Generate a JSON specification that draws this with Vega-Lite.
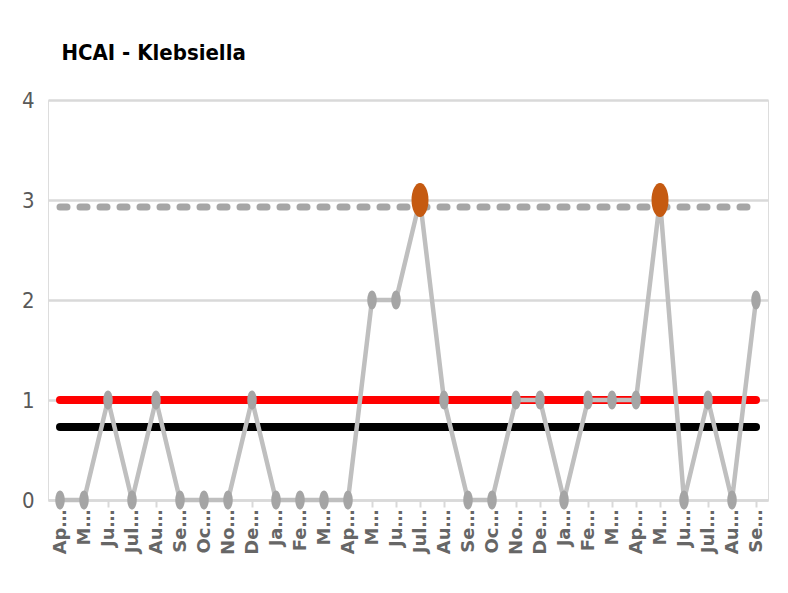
{
  "$schema": "https://vega.github.io/schema/vega-lite/v6.json",
  "width": 720,
  "height": 400,
  "autosize": {"type": "none"},
  "padding": {"left": 48, "top": 100, "right": 20, "bottom": 93},
  "title": {
    "text": "HCAI - Klebsiella",
    "anchor": "start",
    "dx": 40,
    "dy": -20,
    "font": "DejaVu Sans Condensed",
    "fontSize": 22,
    "fontWeight": "bold",
    "color": "#000000"
  },
  "data": {
    "values": [
      {"month": "Apr 2018", "cases": 0, "mean": 1, "lower": 0.73, "ucl": 2.93},
      {"month": "May 2018", "cases": 0, "mean": 1, "lower": 0.73, "ucl": 2.93},
      {"month": "Jun 2018", "cases": 1, "mean": 1, "lower": 0.73, "ucl": 2.93},
      {"month": "Jul 2018", "cases": 0, "mean": 1, "lower": 0.73, "ucl": 2.93},
      {"month": "Aug 2018", "cases": 1, "mean": 1, "lower": 0.73, "ucl": 2.93},
      {"month": "Sep 2018", "cases": 0, "mean": 1, "lower": 0.73, "ucl": 2.93},
      {"month": "Oct 2018", "cases": 0, "mean": 1, "lower": 0.73, "ucl": 2.93},
      {"month": "Nov 2018", "cases": 0, "mean": 1, "lower": 0.73, "ucl": 2.93},
      {"month": "Dec 2018", "cases": 1, "mean": 1, "lower": 0.73, "ucl": 2.93},
      {"month": "Jan 2019", "cases": 0, "mean": 1, "lower": 0.73, "ucl": 2.93},
      {"month": "Feb 2019", "cases": 0, "mean": 1, "lower": 0.73, "ucl": 2.93},
      {"month": "Mar 2019", "cases": 0, "mean": 1, "lower": 0.73, "ucl": 2.93},
      {"month": "Apr 2019", "cases": 0, "mean": 1, "lower": 0.73, "ucl": 2.93},
      {"month": "May 2019", "cases": 2, "mean": 1, "lower": 0.73, "ucl": 2.93},
      {"month": "Jun 2019", "cases": 2, "mean": 1, "lower": 0.73, "ucl": 2.93},
      {"month": "Jul 2019", "cases": 3, "mean": 1, "lower": 0.73, "ucl": 2.93},
      {"month": "Aug 2019", "cases": 1, "mean": 1, "lower": 0.73, "ucl": 2.93},
      {"month": "Sep 2019", "cases": 0, "mean": 1, "lower": 0.73, "ucl": 2.93},
      {"month": "Oct 2019", "cases": 0, "mean": 1, "lower": 0.73, "ucl": 2.93},
      {"month": "Nov 2019", "cases": 1, "mean": 1, "lower": 0.73, "ucl": 2.93},
      {"month": "Dec 2019", "cases": 1, "mean": 1, "lower": 0.73, "ucl": 2.93},
      {"month": "Jan 2020", "cases": 0, "mean": 1, "lower": 0.73, "ucl": 2.93},
      {"month": "Feb 2020", "cases": 1, "mean": 1, "lower": 0.73, "ucl": 2.93},
      {"month": "Mar 2020", "cases": 1, "mean": 1, "lower": 0.73, "ucl": 2.93},
      {"month": "Apr 2020", "cases": 1, "mean": 1, "lower": 0.73, "ucl": 2.93},
      {"month": "May 2020", "cases": 3, "mean": 1, "lower": 0.73, "ucl": 2.93},
      {"month": "Jun 2020", "cases": 0, "mean": 1, "lower": 0.73, "ucl": 2.93},
      {"month": "Jul 2020", "cases": 1, "mean": 1, "lower": 0.73, "ucl": 2.93},
      {"month": "Aug 2020", "cases": 0, "mean": 1, "lower": 0.73, "ucl": 2.93},
      {"month": "Sep 2020", "cases": 2, "mean": 1, "lower": 0.73, "ucl": 2.93}
    ]
  },
  "encoding": {
    "x": {
      "field": "month",
      "type": "ordinal",
      "sort": null,
      "scale": {"padding": 0.5},
      "axis": {
        "title": null,
        "labelAngle": -90,
        "labelExpr": "slice(datum.value,0,3)=='Jul' ? 'Jul…' : (slice(datum.value,0,1)=='M' ? 'M…' : slice(datum.value,0,2)+'…')",
        "labelFont": "DejaVu Sans",
        "labelFontSize": 18,
        "labelFontWeight": "bold",
        "labelColor": "#666666",
        "labelPadding": 2,
        "tickSize": 7,
        "tickColor": "#d9d9d9",
        "tickWidth": 2,
        "domainColor": "#d9d9d9",
        "domainWidth": 2.5,
        "grid": false
      }
    }
  },
  "layer": [
    {
      "mark": {"type": "line", "color": "#a6a6a6", "strokeWidth": 7, "strokeDash": [7, 13], "strokeCap": "round"},
      "encoding": {"y": {"field": "ucl", "type": "quantitative", "scale": {"domain": [0, 4]},
        "axis": {"title": null, "values": [0, 1, 2, 3, 4], "format": "d", "domain": false, "ticks": false, "labelPadding": 14,
          "labelFont": "DejaVu Sans Condensed", "labelFontSize": 22, "labelColor": "#595959", "gridColor": "#d9d9d9", "gridWidth": 2.5}}}
    },
    {
      "mark": {"type": "line", "color": "#ff0000", "strokeWidth": 8, "strokeCap": "round"},
      "encoding": {"y": {"field": "mean", "type": "quantitative"}}
    },
    {
      "mark": {"type": "line", "color": "#000000", "strokeWidth": 8, "strokeCap": "round"},
      "encoding": {"y": {"field": "lower", "type": "quantitative"}}
    },
    {
      "mark": {"type": "line", "color": "#bfbfbf", "strokeWidth": 4.5},
      "encoding": {"y": {"field": "cases", "type": "quantitative"}}
    },
    {
      "mark": {"type": "point", "filled": true, "opacity": 1, "color": "#a5a5a5", "size": 361, "shape": "M0,-1A0.5,1 0 1,1 0,1A0.5,1 0 1,1 0,-1Z"},
      "encoding": {"y": {"field": "cases", "type": "quantitative"}}
    },
    {
      "transform": [{"filter": "datum.cases > datum.ucl"}],
      "mark": {"type": "point", "filled": true, "opacity": 1, "color": "#c55a11", "size": 1156, "shape": "M0,-1A0.5,1 0 1,1 0,1A0.5,1 0 1,1 0,-1Z"},
      "encoding": {"y": {"field": "cases", "type": "quantitative"}}
    }
  ]
}
